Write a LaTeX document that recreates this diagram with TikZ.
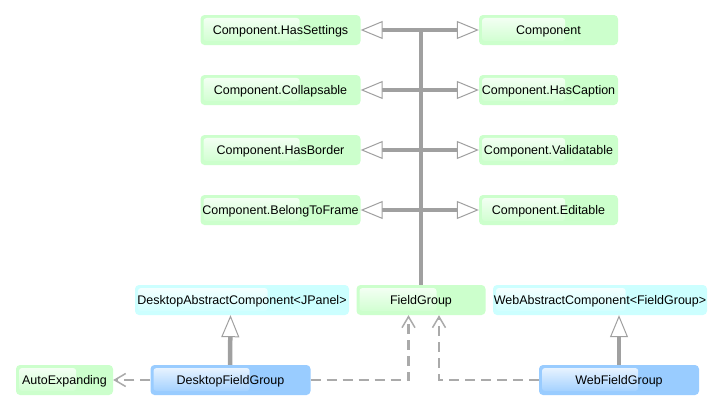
\documentclass[tikz,border=0pt]{standalone}
\usepackage{fontspec}
\setmainfont{Liberation Sans}
\usetikzlibrary{arrows.meta,calc,fadings}
\definecolor{gfill}{RGB}{204,255,204}
\definecolor{cfill}{RGB}{204,255,255}
\definecolor{bfill}{RGB}{153,204,255}
\definecolor{lgray}{RGB}{160,160,160}
\definecolor{dgray}{RGB}{170,170,170}
\tikzset{
  box/.style={rounded corners=4pt, inner sep=0pt, minimum height=30pt,
    text height=8pt, text depth=0pt,
    font=\fontsize{12.5}{14}\selectfont,
    path picture={\fill[white,opacity=.85,path fading=south,rounded corners=3pt]
      ([xshift=3pt,yshift=-3pt]path picture bounding box.north west) rectangle
      ($(path picture bounding box.south west)!0.62!(path picture bounding box.south east)+(0pt,4pt)$);}},
  gbox/.style={box, fill=gfill},
  cbox/.style={box, fill=cfill},
  bbox/.style={box, fill=bfill},
  gen/.style={draw=lgray, line width=4.5pt,
    -{Triangle[length=22pt,width=18pt,line width=1pt,fill=white]}},
  trunk/.style={draw=lgray, line width=4.5pt},
  dep/.style={draw=dgray, line width=2.5pt, dash pattern=on 10pt off 6pt,
    -{Straight Barb[length=11pt,width=13pt,line width=1.5pt]}},
}
\begin{document}
\begin{tikzpicture}[x=1pt,y=-1pt]
\useasboundingbox (0,0) rectangle (723,410);
\fill[white] (0,0) rectangle (723,410);

% top rows
\node[gbox, minimum width=160pt] (hs) at (280.5,30) {Component.HasSettings};
\node[gbox, minimum width=139pt] (co) at (548.5,30) {Component};
\node[gbox, minimum width=160pt] (cl) at (280.5,90) {Component.Collapsable};
\node[gbox, minimum width=139pt] (hc) at (548.5,90) {Component.HasCaption};
\node[gbox, minimum width=160pt] (hb) at (280.5,150) {Component.HasBorder};
\node[gbox, minimum width=139pt] (va) at (548.5,150) {Component.Validatable};
\node[gbox, minimum width=160pt] (bf) at (280.5,210) {Component.BelongToFrame};
\node[gbox, minimum width=139pt] (ed) at (548.5,210) {Component.Editable};

% middle row
\node[cbox, minimum width=214pt] (da) at (242,300) {DesktopAbstractComponent<JPanel>};
\node[gbox, minimum width=129pt] (fg) at (421,300) {FieldGroup};
\node[cbox, minimum width=214pt] (wa) at (600,300) {WebAbstractComponent<FieldGroup>};

% bottom row
\node[gbox, minimum width=97pt] (ae) at (64.5,380) {AutoExpanding};
\node[bbox, minimum width=160pt] (df) at (230.5,380) {DesktopFieldGroup};
\node[bbox, minimum width=160pt] (wf) at (619,380) {WebFieldGroup};

% trunk
\coordinate (j1) at (421,30);
\coordinate (j2) at (421,90);
\coordinate (j3) at (421,150);
\coordinate (j4) at (421,210);
\draw[trunk] (fg.north) -- ([yshift=2.25pt]j1);

\draw[gen] (j1) -- (hs.east);
\draw[gen] (j1) -- (co.west);
\draw[gen] (j2) -- (cl.east);
\draw[gen] (j2) -- (hc.west);
\draw[gen] (j3) -- (hb.east);
\draw[gen] (j3) -- (va.west);
\draw[gen] (j4) -- (bf.east);
\draw[gen] (j4) -- (ed.west);

% realizations from bottom classes
\draw[gen] ([xshift=-0.5pt]df.north) -- (df.north |- da.south);
\draw[gen] (wf.north) -- (wf.north |- wa.south);

% dependencies
\draw[dep] (df.east) -| ([xshift=-12.5pt]fg.south);
\draw[dep] (wf.west) -| ([xshift=18pt]fg.south);
\draw[dep] (df.west) -- (ae.east);
\end{tikzpicture}
\end{document}
